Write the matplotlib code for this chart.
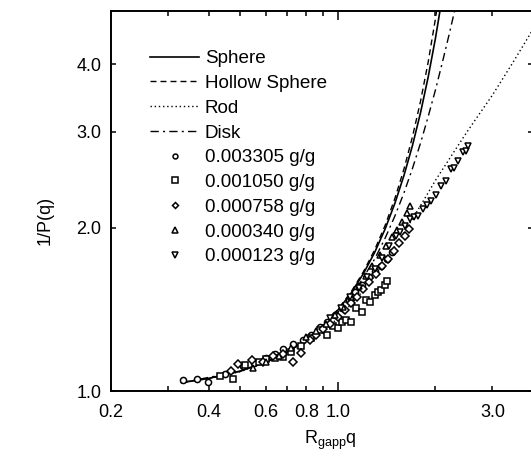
import matplotlib.pyplot as plt
from matplotlib.ticker import FixedLocator, FixedFormatter, NullLocator, NullFormatter

plt.rcParams['font.family'] = ['Liberation Sans', 'DejaVu Sans']
plt.rcParams['mathtext.fontset'] = 'custom'
plt.rcParams['mathtext.rm'] = 'Liberation Sans'

# ---------------------------------------------
# Model curves, 1/P(q) vs Rg*q
# ---------------------------------------------
sphere_x = [0.33, 0.4, 0.5, 0.6, 0.7, 0.8, 0.9, 1.0, 1.1, 1.2, 1.3, 1.4, 1.5, 1.6, 1.7, 1.8, 1.9, 2.0, 2.1]
sphere_y = [1.036, 1.055, 1.088, 1.129, 1.180, 1.242, 1.317, 1.408, 1.515, 1.645, 1.800, 1.988, 2.215, 2.493, 2.832, 3.254, 3.783, 4.453, 5.315]

hollow_x = [0.33, 0.4, 0.5, 0.6, 0.7, 0.8, 0.9, 1.0, 1.1, 1.2, 1.3, 1.4, 1.5, 1.6, 1.7, 1.8, 1.9, 2.0, 2.05]
hollow_y = [1.037, 1.055, 1.088, 1.129, 1.181, 1.244, 1.320, 1.412, 1.523, 1.658, 1.820, 2.018, 2.261, 2.562, 2.939, 3.416, 4.031, 4.838, 5.338]

rod_x = [0.33, 0.4, 0.5, 0.7, 0.85, 1.0, 1.15, 1.3, 1.45, 1.6, 1.8, 2.0, 2.25, 2.5, 2.75, 3.0, 3.5, 4.0]
rod_y = [1.036, 1.054, 1.085, 1.171, 1.258, 1.359, 1.487, 1.626, 1.785, 1.957, 2.195, 2.441, 2.722, 2.997, 3.255, 3.508, 4.063, 4.637]

disk_x = [0.33, 0.5, 0.7, 0.85, 1.0, 1.15, 1.3, 1.4, 1.5, 1.6, 1.7, 1.8, 1.9, 2.0, 2.1, 2.2, 2.3]
disk_y = [1.036, 1.087, 1.178, 1.274, 1.394, 1.553, 1.750, 1.912, 2.099, 2.316, 2.570, 2.861, 3.200, 3.580, 4.020, 4.509, 5.053]

# ---------------------------------------------
# Measured points
# ---------------------------------------------
c1_x = [0.334, 0.367, 0.397, 0.45, 0.51, 0.55, 0.60, 0.64, 0.68, 0.73, 0.78, 0.83, 0.88, 0.93,
        0.98, 1.03, 1.08, 1.13, 1.19, 1.25, 1.30, 1.36, 1.42, 1.47]
c1_y = [1.048, 1.052, 1.038, 1.075, 1.11, 1.125, 1.15, 1.17, 1.195, 1.22, 1.24, 1.27, 1.31, 1.34,
        1.38, 1.42, 1.47, 1.52, 1.57, 1.62, 1.66, 1.70, 1.75, 1.80]

c2_x = [0.434, 0.476, 0.518, 0.57, 0.603, 0.64, 0.677, 0.72, 0.77, 0.83, 0.88, 0.93, 0.97, 1.0,
        1.03, 1.064, 1.10, 1.141, 1.19, 1.225, 1.26, 1.30, 1.33, 1.363, 1.40, 1.415]
c2_y = [1.066, 1.052, 1.117, 1.13, 1.146, 1.15, 1.157, 1.18, 1.21, 1.25, 1.296, 1.27, 1.32, 1.307,
        1.34, 1.353, 1.34, 1.424, 1.40, 1.473, 1.46, 1.504, 1.52, 1.537, 1.57, 1.593]

c3_x = [0.47, 0.493, 0.543, 0.59, 0.63, 0.68, 0.727, 0.773, 0.82, 0.86, 0.90, 0.95, 1.0, 1.05,
        1.10, 1.15, 1.20, 1.25, 1.31, 1.37, 1.43, 1.49, 1.55, 1.61, 1.66]
c3_y = [1.09, 1.122, 1.141, 1.13, 1.16, 1.17, 1.133, 1.176, 1.24, 1.27, 1.30, 1.33, 1.37, 1.41,
        1.45, 1.49, 1.54, 1.59, 1.64, 1.70, 1.75, 1.81, 1.87, 1.93, 1.99]

c4_x = [0.548, 0.60, 0.66, 0.72, 0.80, 0.86, 0.92, 0.98, 1.04, 1.10, 1.16, 1.22, 1.28, 1.35,
        1.41, 1.47, 1.52, 1.58, 1.63, 1.67]
c4_y = [1.103, 1.13, 1.16, 1.20, 1.26, 1.29, 1.33, 1.38, 1.43, 1.49, 1.56, 1.63, 1.70, 1.78,
        1.85, 1.92, 1.98, 2.05, 2.13, 2.19]

c5_x = [0.95, 1.02, 1.09, 1.16, 1.23, 1.30, 1.37, 1.44, 1.515, 1.56, 1.607, 1.665, 1.72, 1.767,
        1.83, 1.89, 1.943, 2.01, 2.085, 2.16, 2.24, 2.29, 2.345, 2.43, 2.48, 2.52]
c5_y = [1.36, 1.42, 1.49, 1.55, 1.62, 1.68, 1.76, 1.85, 1.93, 1.96, 2.01, 2.07, 2.09, 2.10,
        2.16, 2.20, 2.24, 2.30, 2.385, 2.44, 2.56, 2.58, 2.65, 2.75, 2.77, 2.83]

x_ticks = [0.2, 0.4, 0.6, 0.8, 1.0, 3.0]
x_labels = ["0.2", "0.4", "0.6", "0.8", "1.0", "3.0"]
x_minor = [0.3, 0.5, 0.7, 0.9, 2.0]
y_ticks = [1.0, 2.0, 3.0, 4.0]
y_labels = ["1.0", "2.0", "3.0", "4.0"]

# ---------------------------------------------
# Figure
# ---------------------------------------------
W, H = 531, 465
fig = plt.figure(figsize=(W / 100, H / 100), dpi=100)
ax = fig.add_axes([111 / W, 74 / H, 422 / W, 379.5 / H])

ax.plot(sphere_x, sphere_y, color="black", lw=1.2, label="Sphere")
ax.plot(hollow_x, hollow_y, color="black", lw=1.0, linestyle=(0, (4.3, 2.9)), label="Hollow Sphere")
ax.plot(rod_x, rod_y, color="black", lw=1.0, linestyle=(0, (1.0, 2.0)), label="Rod")
ax.plot(disk_x, disk_y, color="black", lw=1.0, linestyle=(0, (6, 3, 1.5, 3)), label="Disk")

mk = dict(color="black", linestyle="none", markerfacecolor="white", markeredgewidth=1.1)
ax.plot(c1_x, c1_y, marker="o", markersize=4.4, label="0.003305 g/g", **mk)
ax.plot(c2_x, c2_y, marker="s", markersize=4.8, label="0.001050 g/g", **mk)
ax.plot(c3_x, c3_y, marker="D", markersize=3.8, label="0.000758 g/g", **mk)
ax.plot(c4_x, c4_y, marker="^", markersize=4.8, label="0.000340 g/g", **mk)
ax.plot(c5_x, c5_y, marker="v", markersize=4.8, label="0.000123 g/g", **mk)

ax.set_xscale("log")
ax.set_yscale("log")
ax.set_xlim(0.2, 4.0)
ax.set_ylim(1.0, 5.0)

ax.xaxis.set_major_locator(FixedLocator(x_ticks))
ax.xaxis.set_major_formatter(FixedFormatter(x_labels))
ax.xaxis.set_minor_locator(FixedLocator(x_minor))
ax.xaxis.set_minor_formatter(NullFormatter())
ax.yaxis.set_major_locator(FixedLocator(y_ticks))
ax.yaxis.set_major_formatter(FixedFormatter(y_labels))
ax.yaxis.set_minor_locator(NullLocator())

ax.tick_params(which="both", direction="in", top=True, right=True, width=1.1, length=3.5,
               labelsize=13)
ax.tick_params(axis="x", which="major", pad=9)
ax.tick_params(axis="y", which="major", pad=7)
# the 1.0 tick is drawn longer
t = ax.xaxis.get_major_ticks()[4]
t.tick1line.set_markersize(6.5)
t.tick2line.set_markersize(6.5)

for s in ax.spines.values():
    s.set_linewidth(1.4)

fig.text(45 / W, 1 - 220 / H, "1/P(q)", rotation=90, ha="center", va="center", fontsize=13)
fig.text(330 / W, 1 - 440 / H, r"R$_{\mathrm{gapp}}$q", ha="center", va="center", fontsize=13)

ax.legend(loc="upper left", bbox_to_anchor=(150 / W, 1 - 50 / H), bbox_transform=fig.transFigure,
          frameon=False, fontsize=13.6, borderpad=0, borderaxespad=0, handlelength=2.6,
          handletextpad=0.3, labelspacing=0.40, numpoints=1, markerscale=0.8)

fig.savefig("out.png", dpi=100)
